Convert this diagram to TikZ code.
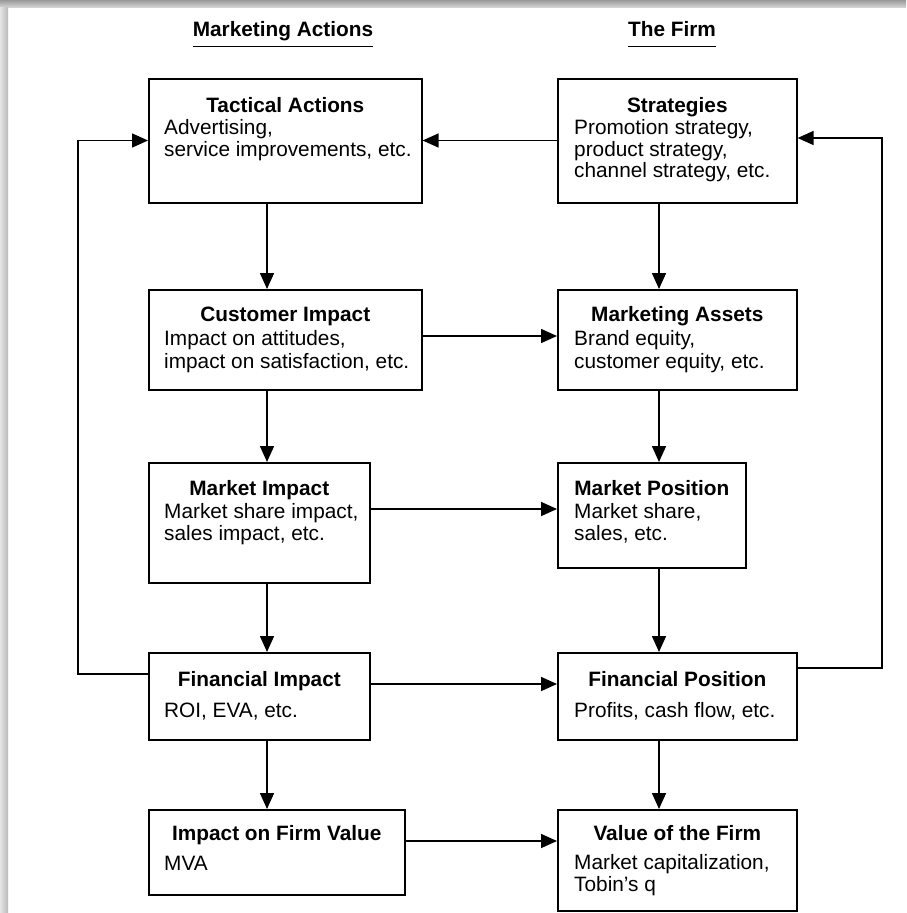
\documentclass[tikz,border=0pt]{standalone}
\usepackage{fontspec}
\setmainfont{Liberation Sans}
\usetikzlibrary{arrows.meta,calc}
\begin{document}
\begin{tikzpicture}[x=1pt,y=-1pt,
  box/.style={draw, line width=1.6pt, inner sep=0pt, anchor=north west, fill=white},
  ttl/.style={font=\fontsize{20.8}{22}\selectfont\bfseries, anchor=base, inner sep=0pt},
  txt/.style={font=\fontsize{20.8}{22}\selectfont, anchor=base west, inner sep=0pt},
  hdr/.style={font=\fontsize{20.8}{22}\selectfont\bfseries, anchor=base, inner sep=0pt},
  uline/.style={line width=1.7pt},
  arr/.style={line width=1.6pt, -{Triangle[length=16pt,width=14pt]}},
  frame/.style={draw=none}]
\useasboundingbox (0,0) rectangle (906,913);
\fill[white] (0,0) rectangle (906,913);
% page shadow along the top and left edges
\shade[frame, top color=gray!80, bottom color=gray!35] (0,0) rectangle (906,7);
\shade[frame, left color=gray!20, right color=gray!55] (0,7) rectangle (8,913);

% column headings
\node[hdr] (h1) at (283,36) {Marketing Actions};
\node[hdr] (h2) at (672,36) {The Firm};
\draw[uline] ($(h1.base west)+(0,10.5)$) -- ($(h1.base east)+(0,10.5)$);
\draw[uline] ($(h2.base west)+(0,10.5)$) -- ($(h2.base east)+(0,10.5)$);

% left column boxes
\node[box, minimum width=273pt, minimum height=124pt] (ta) at (148,78) {};
\node[box, minimum width=273pt, minimum height=100pt] (ci) at (148,289) {};
\node[box, minimum width=221pt, minimum height=120pt] (mi) at (148,462) {};
\node[box, minimum width=221pt, minimum height=87pt] (fi) at (148,652) {};
\node[box, minimum width=256pt, minimum height=85pt] (iv) at (148,809) {};
% right column boxes
\node[box, minimum width=239pt, minimum height=124pt] (st) at (557,78) {};
\node[box, minimum width=239pt, minimum height=100pt] (ma) at (557,289) {};
\node[box, minimum width=188pt, minimum height=105pt] (mp) at (557,462) {};
\node[box, minimum width=239pt, minimum height=87pt] (fp) at (557,652) {};
\node[box, minimum width=239pt, minimum height=101pt] (vf) at (557,809) {};

% box texts
\node[ttl] (ta-t) at ($(ta.north)+(0,34.5)$) {Tactical Actions};
\node[txt] (ta-1) at ($(ta.north west)+(16,56)$) {Advertising,};
\node[txt] (ta-2) at ($(ta.north west)+(16,78)$) {service improvements, etc.};

\node[ttl] (st-t) at ($(st.north)+(0,34)$) {Strategies};
\node[txt] (st-1) at ($(st.north west)+(17,56)$) {Promotion strategy,};
\node[txt] (st-2) at ($(st.north west)+(17,78)$) {product strategy,};
\node[txt] (st-3) at ($(st.north west)+(17,99.5)$) {channel strategy, etc.};

\node[ttl] (ci-t) at ($(ci.north)+(0,32.5)$) {Customer Impact};
\node[txt] (ci-1) at ($(ci.north west)+(16,56.5)$) {Impact on attitudes,};
\node[txt] (ci-2) at ($(ci.north west)+(16,79)$) {impact on satisfaction, etc.};

\node[ttl] (ma-t) at ($(ma.north)+(0,32.5)$) {Marketing Assets};
\node[txt] (ma-1) at ($(ma.north west)+(17,56.5)$) {Brand equity,};
\node[txt] (ma-2) at ($(ma.north west)+(17,79)$) {customer equity, etc.};

\node[ttl] (mi-t) at ($(mi.north)+(0,33)$) {Market Impact};
\node[txt] (mi-1) at ($(mi.north west)+(16,56)$) {Market share impact,};
\node[txt] (mi-2) at ($(mi.north west)+(16,78)$) {sales impact, etc.};

\node[ttl] (mp-t) at ($(mp.north)+(0,33)$) {Market Position};
\node[txt] (mp-1) at ($(mp.north west)+(17,56)$) {Market share,};
\node[txt] (mp-2) at ($(mp.north west)+(17,78)$) {sales, etc.};

\node[ttl] (fi-t) at ($(fi.north)+(0,34.5)$) {Financial Impact};
\node[txt] (fi-1) at ($(fi.north west)+(16,65)$) {ROI, EVA, etc.};

\node[ttl] (fp-t) at ($(fp.north)+(0,34.5)$) {Financial Position};
\node[txt] (fp-1) at ($(fp.north west)+(17,65)$) {Profits, cash flow, etc.};

\node[ttl] (iv-t) at ($(iv.north)+(0,31)$) {Impact on Firm Value};
\node[txt] (iv-1) at ($(iv.north west)+(16,61)$) {MVA};

\node[ttl] (vf-t) at ($(vf.north)+(0,31)$) {Value of the Firm};
\node[txt] (vf-1) at ($(vf.north west)+(17,60)$) {Market capitalization,};
\node[txt] (vf-2) at ($(vf.north west)+(17,82.5)$) {Tobin's q};

% reference lines for the connectors
\coordinate (xl) at (267,0);
\coordinate (xr) at (659,0);
\coordinate (xlo) at (78,0);
\coordinate (xro) at (882,0);
\coordinate (y1) at (0,140.5);
\coordinate (y1r) at (0,138);
\coordinate (y2) at (0,336);
\coordinate (y3) at (0,509);
\coordinate (y4) at (0,684);
\coordinate (y4l) at (0,674);
\coordinate (y4r) at (0,668);
\coordinate (y5) at (0,841);

% vertical flows
\draw[arr] (ta.south -| xl) -- (ci.north -| xl);
\draw[arr] (ci.south -| xl) -- (mi.north -| xl);
\draw[arr] (mi.south -| xl) -- (fi.north -| xl);
\draw[arr] (fi.south -| xl) -- (iv.north -| xl);
\draw[arr] (st.south -| xr) -- (ma.north -| xr);
\draw[arr] (ma.south -| xr) -- (mp.north -| xr);
\draw[arr] (mp.south -| xr) -- (fp.north -| xr);
\draw[arr] (fp.south -| xr) -- (vf.north -| xr);

% horizontal flows
\draw[arr] (st.west |- y1) -- (ta.east |- y1);
\draw[arr] (ci.east |- y2) -- (ma.west |- y2);
\draw[arr] (mi.east |- y3) -- (mp.west |- y3);
\draw[arr] (fi.east |- y4) -- (fp.west |- y4);
\draw[arr] (iv.east |- y5) -- (vf.west |- y5);

% feedback loops
\draw[arr] (fi.west |- y4l) -| (xlo |- y1) -- (ta.west |- y1);
\draw[arr] (fp.east |- y4r) -| (xro |- y1r) -- (st.east |- y1r);
\end{tikzpicture}
\end{document}
